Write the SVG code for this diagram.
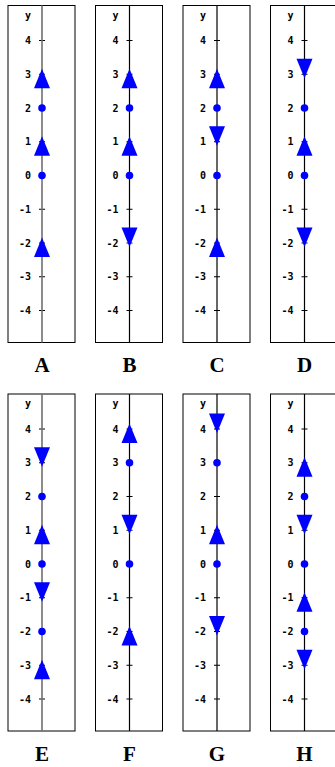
<svg xmlns="http://www.w3.org/2000/svg" xmlns:xlink="http://www.w3.org/1999/xlink" width="335" height="767" viewBox="0 0 335 767">
<style>
.box{fill:#fff;stroke:#000;stroke-width:1}
.ax{stroke:#000;stroke-width:1.2}
.ax.g{stroke:#707070;stroke-width:1.6}
.tk{stroke:#000;stroke-width:1}
.lb{font-family:"DejaVu Sans Mono",monospace;font-weight:bold;font-size:10px;fill:#000;text-anchor:end}
.ttl{font-family:"Liberation Serif",serif;font-weight:bold;font-size:21px;fill:#000;text-anchor:middle}
.m{fill:#0000ff}
</style>
<defs>
<path id="up" class="m" d="M0,-5.5 L8,14 L-8,14 Z"/>
<path id="dn" class="m" d="M-8,-15.5 L8,-15.5 L0,4 Z"/>
<circle id="dot" class="m" r="3.8"/>
<g id="scale">
<rect class="box" x="8" y="5.5" width="67" height="337"/>
<g class="tk">
<line x1="39" x2="45" y1="40.5" y2="40.5"/>
<line x1="39" x2="45" y1="74.25" y2="74.25"/>
<line x1="39" x2="45" y1="108" y2="108"/>
<line x1="39" x2="45" y1="141.75" y2="141.75"/>
<line x1="39" x2="45" y1="175.5" y2="175.5"/>
<line x1="39" x2="45" y1="209.25" y2="209.25"/>
<line x1="39" x2="45" y1="243" y2="243"/>
<line x1="39" x2="45" y1="276.75" y2="276.75"/>
<line x1="39" x2="45" y1="310.5" y2="310.5"/>
</g>
<g class="lb">
<text x="31" y="18.5">y</text>
<text x="31" y="44">4</text>
<text x="31" y="77.8">3</text>
<text x="31" y="111.5">2</text>
<text x="31" y="145.3">1</text>
<text x="31" y="179">0</text>
<text x="31" y="212.8">-1</text>
<text x="31" y="246.5">-2</text>
<text x="31" y="280.3">-3</text>
<text x="31" y="314">-4</text>
</g>
</g>
</defs>
<g id="panelA" transform="translate(0,0)">
<use xlink:href="#scale"/>
<line class="ax g" x1="42" x2="42" y1="5.5" y2="342.5"/>
<use xlink:href="#up" x="42" y="74.25"/>
<use xlink:href="#dot" x="42" y="108"/>
<use xlink:href="#up" x="42" y="141.75"/>
<use xlink:href="#dot" x="42" y="175.5"/>
<use xlink:href="#up" x="42" y="243"/>
<text class="ttl" x="42" y="372">A</text>
</g>
<g id="panelB" transform="translate(87.5,0)">
<use xlink:href="#scale"/>
<line class="ax" x1="42" x2="42" y1="5.5" y2="342.5"/>
<use xlink:href="#up" x="42" y="74.25"/>
<use xlink:href="#dot" x="42" y="108"/>
<use xlink:href="#up" x="42" y="141.75"/>
<use xlink:href="#dot" x="42" y="175.5"/>
<use xlink:href="#dn" x="42" y="243"/>
<text class="ttl" x="42" y="372">B</text>
</g>
<g id="panelC" transform="translate(175,0)">
<use xlink:href="#scale"/>
<line class="ax" x1="42" x2="42" y1="5.5" y2="342.5"/>
<use xlink:href="#up" x="42" y="74.25"/>
<use xlink:href="#dot" x="42" y="108"/>
<use xlink:href="#dn" x="42" y="141.75"/>
<use xlink:href="#dot" x="42" y="175.5"/>
<use xlink:href="#up" x="42" y="243"/>
<text class="ttl" x="42" y="372">C</text>
</g>
<g id="panelD" transform="translate(262.5,0)">
<use xlink:href="#scale"/>
<line class="ax" x1="42" x2="42" y1="5.5" y2="342.5"/>
<use xlink:href="#dn" x="42" y="74.25"/>
<use xlink:href="#dot" x="42" y="108"/>
<use xlink:href="#up" x="42" y="141.75"/>
<use xlink:href="#dot" x="42" y="175.5"/>
<use xlink:href="#dn" x="42" y="243"/>
<text class="ttl" x="42" y="372">D</text>
</g>
<g id="panelE" transform="translate(0,388.5)">
<use xlink:href="#scale"/>
<line class="ax g" x1="42" x2="42" y1="5.5" y2="342.5"/>
<use xlink:href="#dn" x="42" y="74.25"/>
<use xlink:href="#dot" x="42" y="108"/>
<use xlink:href="#up" x="42" y="141.75"/>
<use xlink:href="#dot" x="42" y="175.5"/>
<use xlink:href="#dn" x="42" y="209.25"/>
<use xlink:href="#dot" x="42" y="243"/>
<use xlink:href="#up" x="42" y="276.75"/>
<text class="ttl" x="42" y="372">E</text>
</g>
<g id="panelF" transform="translate(87.5,388.5)">
<use xlink:href="#scale"/>
<line class="ax" x1="42" x2="42" y1="5.5" y2="342.5"/>
<use xlink:href="#up" x="42" y="40.5"/>
<use xlink:href="#dot" x="42" y="74.25"/>
<use xlink:href="#dn" x="42" y="141.75"/>
<use xlink:href="#dot" x="42" y="175.5"/>
<use xlink:href="#up" x="42" y="243"/>
<text class="ttl" x="42" y="372">F</text>
</g>
<g id="panelG" transform="translate(175,388.5)">
<use xlink:href="#scale"/>
<line class="ax" x1="42" x2="42" y1="5.5" y2="342.5"/>
<use xlink:href="#dn" x="42" y="40.5"/>
<use xlink:href="#dot" x="42" y="74.25"/>
<use xlink:href="#up" x="42" y="141.75"/>
<use xlink:href="#dot" x="42" y="175.5"/>
<use xlink:href="#dn" x="42" y="243"/>
<text class="ttl" x="42" y="372">G</text>
</g>
<g id="panelH" transform="translate(262.5,388.5)">
<use xlink:href="#scale"/>
<line class="ax" x1="42" x2="42" y1="5.5" y2="342.5"/>
<use xlink:href="#up" x="42" y="74.25"/>
<use xlink:href="#dot" x="42" y="108"/>
<use xlink:href="#dn" x="42" y="141.75"/>
<use xlink:href="#dot" x="42" y="175.5"/>
<use xlink:href="#up" x="42" y="209.25"/>
<use xlink:href="#dot" x="42" y="243"/>
<use xlink:href="#dn" x="42" y="276.75"/>
<text class="ttl" x="42" y="372">H</text>
</g>
</svg>
